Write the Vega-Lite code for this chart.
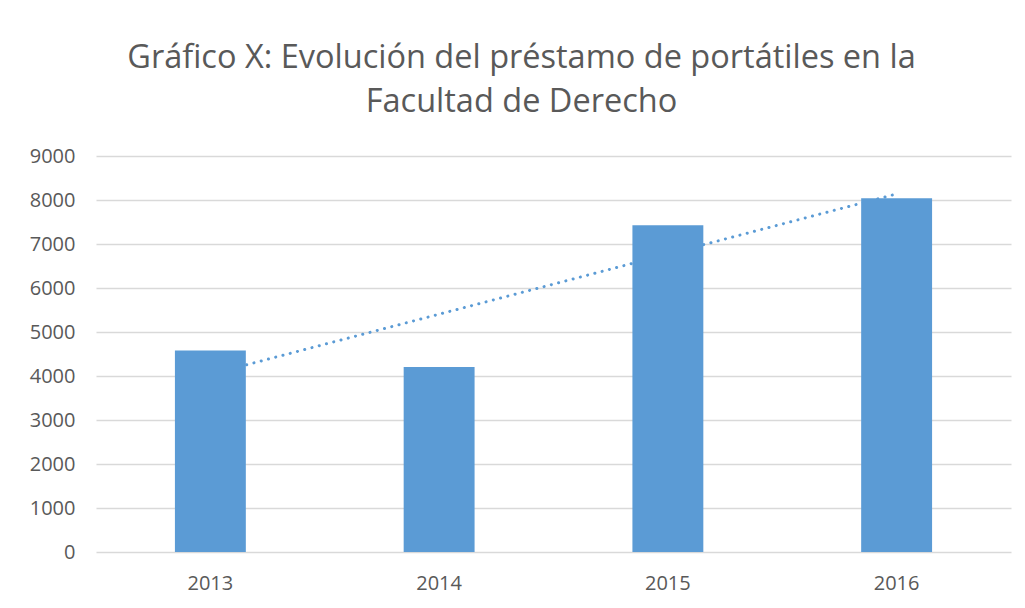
{
  "$schema": "https://vega.github.io/schema/vega-lite/v6.json",
  "autosize": {"type": "none"},
  "padding": {"left": 96, "top": 156, "right": 14, "bottom": 56},
  "width": 915,
  "height": 396,
  "background": "white",
  "title": {
    "text": ["Gráfico X: Evolución del préstamo de portátiles en la", "Facultad de Derecho"],
    "font": "Open Sans",
    "fontSize": 32.5,
    "fontWeight": "normal",
    "color": "#595959",
    "anchor": "middle",
    "dx": -32,
    "offset": 28,
    "lineHeight": 44
  },
  "data": {
    "values": [
      {"year": "2013", "prestamos": 4579, "tendencia": 4038},
      {"year": "2014", "prestamos": 4202, "tendencia": null},
      {"year": "2015", "prestamos": 7427, "tendencia": null},
      {"year": "2016", "prestamos": 8040, "tendencia": 8138}
    ]
  },
  "encoding": {
    "x": {
      "field": "year",
      "type": "ordinal",
      "title": null,
      "scale": {"paddingInner": 0.69, "paddingOuter": 0.345},
      "axis": {
        "labelAngle": 0,
        "labelFont": "Open Sans",
        "labelFontSize": 20,
        "labelColor": "#595959",
        "labelPadding": 21,
        "ticks": false,
        "domain": false,
        "grid": false
      }
    }
  },
  "layer": [
    {
      "transform": [{"filter": "datum.tendencia != null"}],
      "mark": {"type": "line", "color": "#5b9bd5", "strokeWidth": 3, "strokeDash": [0.1, 7.4], "strokeCap": "round"},
      "encoding": {
        "y": {"field": "tendencia", "type": "quantitative"}
      }
    },
    {
      "mark": {"type": "bar", "color": "#5b9bd5"},
      "encoding": {
        "y": {
          "field": "prestamos",
          "type": "quantitative",
          "title": null,
          "scale": {"domain": [0, 9000], "nice": false},
          "axis": {
            "values": [0, 1000, 2000, 3000, 4000, 5000, 6000, 7000, 8000, 9000],
            "format": "d",
            "labelFont": "Open Sans",
            "labelFontSize": 20,
            "labelColor": "#595959",
            "labelPadding": 21,
            "ticks": false,
            "domain": false,
            "grid": true,
            "gridColor": "#d9d9d9",
            "gridWidth": 1.3
          }
        }
      }
    }
  ],
  "config": {"view": {"stroke": null}}
}
